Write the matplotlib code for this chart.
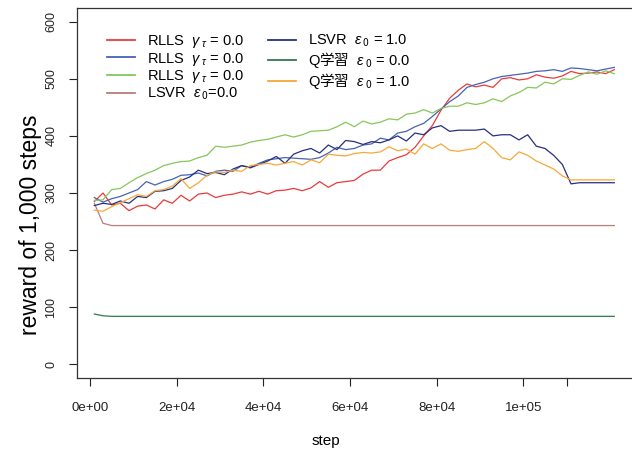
import numpy as np
import matplotlib
matplotlib.use("Agg")
import matplotlib.pyplot as plt

plt.rcParams['font.family'] = ['Liberation Sans', 'Noto Sans CJK JP', 'DejaVu Sans']
plt.rcParams['mathtext.fontset'] = 'custom'
plt.rcParams['mathtext.rm'] = 'Noto Sans CJK JP'
plt.rcParams['mathtext.it'] = 'Liberation Sans:italic'

# steps, every 2,000 from 1,000 to 121,000
steps = np.arange(1000, 122000, 2000)

rlls_red = [285, 300, 279, 282, 269, 277, 279, 272, 288, 282,
            296, 286, 298, 300, 292, 296, 298, 302, 298, 303,
            298, 304, 305, 308, 304, 309, 320, 310, 318, 320,
            322, 333, 340, 340, 356, 362, 367, 380, 400, 418,
            445, 466, 480, 491, 486, 489, 485, 500, 502, 498,
            500, 507, 503, 501, 505, 513, 509, 510, 512, 509,
            516]
rlls_blue = [292, 284, 290, 294, 300, 306, 320, 314, 320, 324,
             331, 332, 335, 330, 338, 340, 338, 348, 345, 352,
             358, 360, 362, 361, 360, 359, 362, 370, 380, 376,
             378, 384, 386, 396, 393, 405, 408, 416, 422, 434,
             447, 460, 470, 485, 490, 494, 500, 504, 506, 508,
             510, 513, 514, 516, 513, 519, 518, 516, 514, 517,
             520]
rlls_green = [287, 288, 306, 308, 318, 327, 334, 340, 348, 352,
              355, 356, 362, 366, 382, 380, 382, 384, 389, 392,
              394, 398, 402, 398, 402, 408, 409, 410, 416, 424,
              416, 426, 421, 424, 430, 428, 438, 440, 446, 440,
              448, 452, 452, 458, 455, 458, 465, 460, 470, 476,
              485, 484, 494, 491, 500, 499, 506, 512, 508, 514,
              509]
lsvr_0 = [282, 247, 243] + [243] * 58
lsvr_1 = [278, 282, 280, 286, 282, 294, 292, 303, 304, 308,
          322, 328, 340, 334, 336, 332, 342, 348, 344, 350,
          356, 364, 352, 368, 374, 378, 370, 384, 376, 392,
          390, 385, 390, 388, 393, 400, 391, 405, 402, 414,
          418, 408, 410, 410, 410, 412, 400, 402, 402, 393,
          402, 382, 378, 366, 350, 316, 318, 318, 318, 318,
          318]
q_0 = [88, 85, 84] + [84] * 58
q_1 = [270, 268, 276, 283, 290, 297, 294, 304, 306, 312,
       325, 308, 318, 331, 337, 336, 340, 338, 348, 350,
       352, 349, 352, 355, 349, 358, 353, 368, 366, 365,
       369, 371, 370, 372, 381, 374, 377, 368, 386, 378,
       386, 375, 373, 376, 378, 390, 378, 362, 358, 372,
       366, 356, 349, 342, 330, 323, 323, 323, 323, 323,
       323]

labels = [r"RLLS  $\gamma\,{}_{\tau}$ = 0.0", r"RLLS  $\gamma\,{}_{\tau}$ = 0.0",
          r"RLLS  $\gamma\,{}_{\tau}$ = 0.0", r"LSVR  $\varepsilon\,{}_{0}$=0.0",
          r"LSVR  $\varepsilon\,{}_{0}$ = 1.0", r"Q$\mathrm{学習}$  $\varepsilon\,{}_{0}$ = 0.0",
          r"Q$\mathrm{学習}$  $\varepsilon\,{}_{0}$ = 1.0"]
colors = ['#ea3a3c', '#4862b4', '#86c75a', '#bb7b7b', '#27307f', '#2f7a4c', '#f7a836']
series = [rlls_red, rlls_blue, rlls_green, lsvr_0, lsvr_1, q_0, q_1]

xticks = [0, 20000, 40000, 60000, 80000, 100000]
xticklabels = ["0e+00", "2e+04", "4e+04", "6e+04", "8e+04", "1e+05"]
xminor = [110000]
yticks = [0, 100, 200, 300, 400, 500, 600]

fig = plt.figure(figsize=(6.32, 4.53), dpi=100)
W, H = 632, 453
ax = fig.add_axes([77 / W, (H - 378) / H, 559 / W, 370 / H])

for vals, c, lab in zip(series, colors, labels):
    ax.plot(steps, vals, color=c, lw=0.9, label=lab)

ax.set_xlim(-3000, 126000)
ax.set_ylim(-24, 624)
ax.set_xticks(xticks)
ax.set_xticklabels(xticklabels)
ax.set_xticks(xminor, minor=True)
ax.set_yticks(yticks)
for lab in ax.get_yticklabels():
    lab.set_rotation(90)
    lab.set_va('center')
ax.tick_params(direction='out', length=6, width=0.8, labelsize=9.5, colors='#222222')
ax.tick_params(axis='x', which='minor', direction='out', length=6, width=0.8,
               colors='#222222')
ax.tick_params(axis='x', pad=11)
ax.tick_params(axis='y', pad=8, labelsize=9)
for sp in ax.spines.values():
    sp.set_linewidth(0.9)
    sp.set_color('#333333')

fig.text(326 / W, 1 - 441 / H, "step", ha='center', va='center', fontsize=11)
fig.text(31 / W, 1 - 225 / H, "reward of 1,000 steps", ha='center', va='center',
         rotation=90, fontsize=16.5)

leg = ax.legend(loc='upper left', bbox_to_anchor=(0.054, 0.933), ncol=2, frameon=False,
                fontsize=10.5, handlelength=1.9, handletextpad=0.85, labelspacing=0.05,
                columnspacing=1.65, borderpad=0, borderaxespad=0)
for h in leg.get_lines():
    h.set_linewidth(1.3)

fig.savefig("out.png", dpi=100)
